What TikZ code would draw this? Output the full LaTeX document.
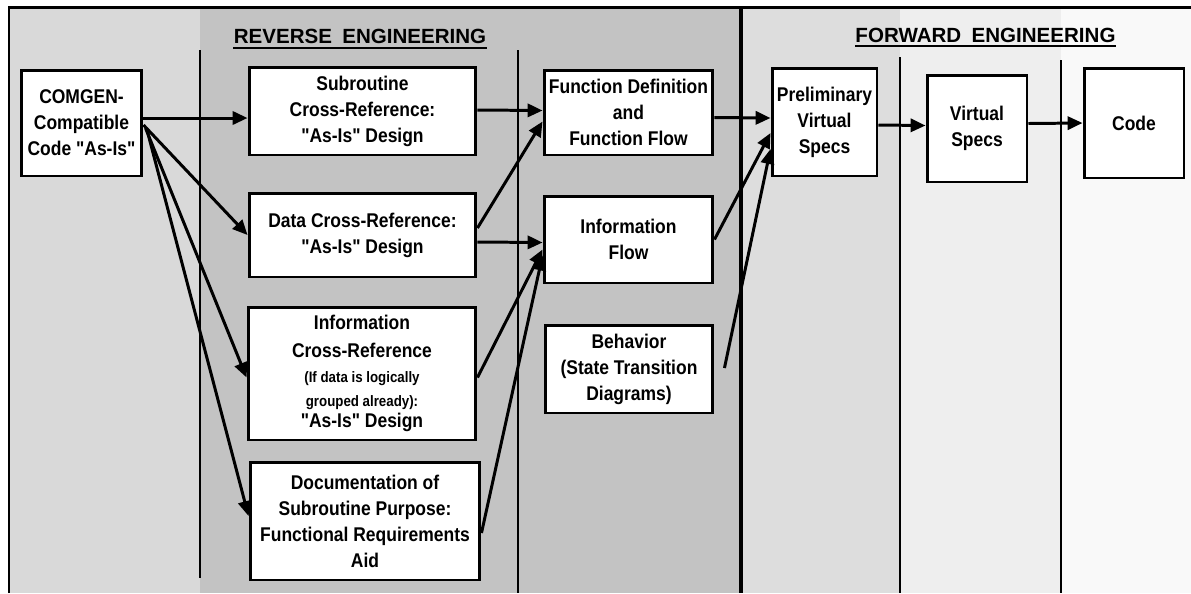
\documentclass[tikz,border=0pt]{standalone}
\usepackage{fontspec}
\setmainfont{Liberation Sans}[FakeStretch=0.88,Ligatures=TeXOff]
\newfontfamily\headfont{Liberation Sans}
\usetikzlibrary{arrows.meta,calc}
\newcommand{\smalltxt}{\fontsize{8.6}{10}\selectfont}
\begin{document}
\begin{tikzpicture}[x=0.02cm,y=-0.02cm,
    box/.style={draw,line width=1.7pt,fill=white,inner sep=0pt,align=center,
      font=\bfseries\fontsize{11.3}{14.8}\selectfont},
    head/.style={inner sep=0pt,font=\headfont\bfseries\fontsize{11.7}{14}\selectfont},
    flow/.style={line width=1.7pt,-{Triangle[length=8.5pt,width=7.5pt]}},
    divider/.style={line width=1.2pt}]
  \useasboundingbox (0,0) rectangle (1191,593);
  \fill[gray!30] (9,7) rectangle (200,593);
  \fill[gray!47] (200,7) rectangle (741,593);
  \fill[gray!27] (741,7) rectangle (900,593);
  \fill[gray!13] (900,7) rectangle (1061,593);
  \fill[gray!5] (1061,7) rectangle (1191,593);
  \draw[line width=1.7pt] (9,593) -- (9,7) -- (1191,7);
  \draw[divider] (200,50) -- (200,578);
  \draw[divider] (518,50) -- (518,593);
  \draw[line width=2.2pt] (741,7) -- (741,593);
  \draw[divider] (900,57) -- (900,593);
  \draw[divider] (1061,60) -- (1061,593);
  \node[head,anchor=base] (rev) at (360,43) {REVERSE\enspace ENGINEERING};
  \node[head,anchor=base] (fwd) at (985.5,42) {FORWARD\enspace ENGINEERING};
  \draw[line width=1.2pt] ($(rev.base west)+(0,5)$) -- ($(rev.base east)+(0,5)$);
  \draw[line width=1.2pt] ($(fwd.base west)+(0,4)$) -- ($(fwd.base east)+(0,4)$);
  \draw
    (81.5,123) node[box,minimum width=2.42cm,minimum height=2.12cm] (comgen){COMGEN-\\Compatible\\Code "As-Is"}
    (362.5,111) node[box,minimum width=4.54cm,minimum height=1.76cm] (subr){Subroutine\\Cross-Reference:\\"As-Is" Design}
    (362.5,235) node[box,minimum width=4.54cm,minimum height=1.68cm] (datax){Data Cross-Reference:\\"As-Is" Design}
    (362,373.5) node[box,minimum width=4.56cm,minimum height=2.66cm] (infox){Information\\[1.5pt]Cross-Reference\\[-1pt]{\smalltxt (If data is logically}\\[-1pt]{\smalltxt grouped already):}\\[-2.5pt]"As-Is" Design}
    (365,521) node[box,minimum width=4.6cm,minimum height=2.36cm] (docu){Documentation of\\Subroutine Purpose:\\Functional Requirements\\Aid}
    (628.5,112.5) node[box,minimum width=3.38cm,minimum height=1.7cm] (funcdef){Function Definition\\and\\Function Flow}
    (628.5,239.5) node[box,minimum width=3.38cm,minimum height=1.74cm] (infoflow){Information\\Flow}
    (629,369) node[box,minimum width=3.36cm,minimum height=1.76cm] (behav){Behavior\\(State Transition\\Diagrams)}
    (824.5,122) node[box,minimum width=2.1cm,minimum height=2.16cm] (prelim){Preliminary\\Virtual\\Specs}
    (977,128.5) node[box,minimum width=2cm,minimum height=2.14cm] (vspecs){Virtual\\Specs}
    (1134,123) node[box,minimum width=2cm,minimum height=2.2cm] (code){Code};
  \begin{scope}[flow]
    \draw ($(comgen.east)+(0,-5)$) to ($(subr.west)+(0,7)$);
    \draw ($(comgen.east)+(0,2)$) to (datax.west);
    \draw ($(comgen.east)+(2,5)$) to ($(infox.west)+(0,4)$);
    \draw ($(comgen.east)+(3,5)$) to ($(docu.west)+(0,-5)$);
    \draw ($(subr.east)+(0,-1)$) to ($(funcdef.west)+(0,-2)$);
    \draw ($(datax.east)+(0,-7)$) to ($(funcdef.west)+(0,9)$);
    \draw ($(datax.east)+(0,7)$) to ($(infoflow.west)+(0,3)$);
    \draw ($(infox.east)+(0,4)$) to ($(infoflow.west)+(0,10)$);
    \draw ($(docu.east)+(0,12)$) to ($(infoflow.west)+(0,16)$);
    \draw ($(funcdef.east)+(0,5)$) to ($(prelim.west)+(0,-4)$);
    \draw (infoflow.east) to ($(prelim.west)+(0,11)$);
    \draw ($(behav.east)+(10,-1)$) to ($(prelim.west)+(0,27)$);
    \draw ($(prelim.east)+(0,3)$) to ($(vspecs.west)+(0,-3)$);
    \draw ($(vspecs.east)+(0,-5)$) to (code.west);
  \end{scope}
\end{tikzpicture}
\end{document}
